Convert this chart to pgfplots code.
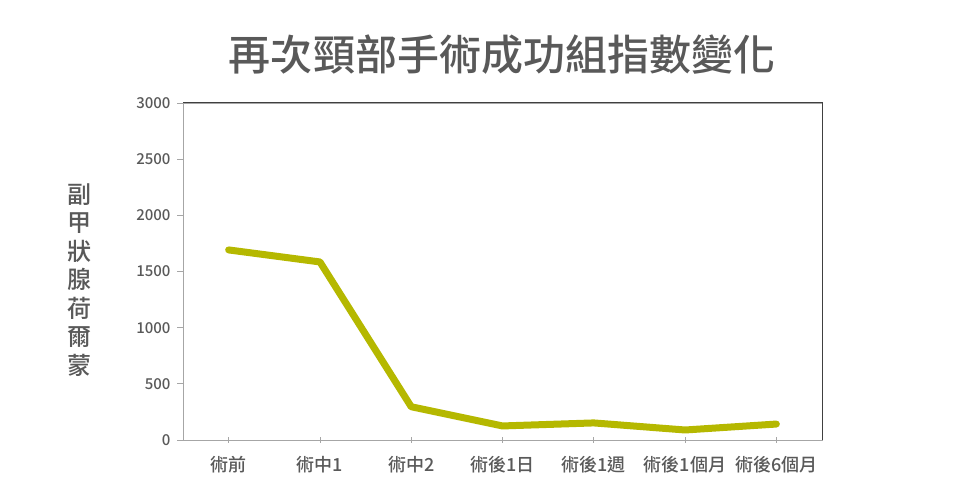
\documentclass[border=0pt]{standalone}
\usepackage{fontspec}
\usepackage{pgfplots}
\pgfplotsset{compat=1.18}
\setmainfont{Noto Sans CJK TC}[UprightFont={* Medium}, BoldFont={* Bold}]
\definecolor{txt}{HTML}{595959}
\definecolor{axgray}{HTML}{A6A6A6}
\definecolor{boxdark}{HTML}{404040}
\definecolor{olive}{HTML}{B5B800}

\pgfplotstableread{
x y
0 1692
1 1585
2 296
3 125
4 152
5 89
6 142
}\pthdata

\begin{document}
\begin{tikzpicture}[x=1bp,y=1bp]
\useasboundingbox (0,0) rectangle (960,502);
\node[font=\fontsize{42bp}{42bp}\selectfont, text=txt] at (502,447) {再次頸部手術成功組指數變化};
\node[font=\fontsize{24bp}{28.5bp}\selectfont, text=txt, align=center] at (79,222)
  {副\\甲\\狀\\腺\\荷\\爾\\蒙};
\begin{axis}[
  at={(183bp,62bp)}, anchor=south west,
  scale only axis, width=639bp, height=337bp,
  xmin=-0.5, xmax=6.5, ymin=0, ymax=3000,
  xtick={0,...,6},
  xticklabels={術前,術中1,術中2,術後1日,術後1週,術後1個月,術後6個月},
  ytick={0,500,...,3000},
  xtick pos=bottom, ytick pos=left,
  tick align=center, major tick length=6bp,
  y tick style={xshift=-3bp, axgray, line width=0.8bp},
  x tick style={axgray, line width=0.8bp},
  axis line style={axgray, line width=0.8bp},
  /pgf/number format/assume math mode=true,
  /pgf/number format/1000 sep={},
  yticklabel style={font=\fontsize{15bp}{15bp}\selectfont, text=txt, xshift=-6bp},
  xticklabel style={font=\fontsize{18bp}{18bp}\selectfont, text=txt, yshift=-10bp},
  clip=false,
]
\addplot[olive, line width=7bp, line cap=round, line join=round] table[x=x,y=y] {\pthdata};
\draw[boxdark, line width=1bp] (rel axis cs:0,1) -- (rel axis cs:1,1) -- (rel axis cs:1,0);
\end{axis}
\end{tikzpicture}
\end{document}
